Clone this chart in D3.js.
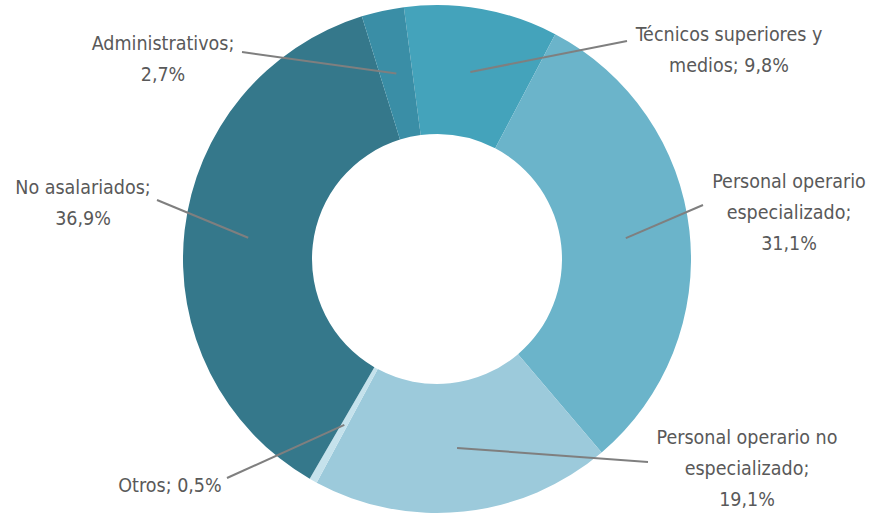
<!DOCTYPE html>
<html><head><meta charset="utf-8">
<script src="https://cdn.jsdelivr.net/npm/d3@7/dist/d3.min.js"></script>
<style>
html,body{margin:0;padding:0;background:#fff;}
text{font-family:"DejaVu Sans Condensed","DejaVu Sans",sans-serif;font-stretch:condensed;}
</style></head>
<body>
<svg id="chart" width="870" height="516"></svg>
<script>
// Data
const categories = ["Técnicos superiores y medios","Personal operario especializado","Personal operario no especializado","Otros","No asalariados","Administrativos"];
const values = [9.8, 31.1, 19.1, 0.5, 36.9, 2.7];
const valueLabels = ["9,8%","31,1%","19,1%","0,5%","36,9%","2,7%"];
const colors = ["#44a3bb","#6bb4ca","#9ccadb","#c5e2ec","#35788b","#3a8ea6"];
// label text lines
const labelLines = [
  ["Técnicos superiores y","medios; 9,8%"],
  ["Personal operario","especializado;","31,1%"],
  ["Personal operario no","especializado;","19,1%"],
  ["Otros; 0,5%"],
  ["No asalariados;","36,9%"],
  ["Administrativos;","2,7%"]
];
// layout: label anchor (center x, first baseline y) and leader line outer end
const labelLayout = [
  {x:729, y:41, lx:627, ly:41},
  {x:789, y:188, lx:703, ly:205},
  {x:747, y:444, lx:648, ly:462},
  {x:170, y:492, lx:227, ly:478},
  {x:83, y:194, lx:157, ly:200},
  {x:163, y:50, lx:242, ly:52}
];

const svg = d3.select("#chart");
const cx = 437, cy = 259, rOuter = 254, rInner = 125;
const startDeg = -7.5;

const pie = d3.pie().sort(null).value(d=>d)
  .startAngle(startDeg*Math.PI/180)
  .endAngle(startDeg*Math.PI/180 + 2*Math.PI);
const arcs = pie(values);
const arc = d3.arc().innerRadius(rInner).outerRadius(rOuter);
const midArc = d3.arc().innerRadius(190).outerRadius(190);

const g = svg.append("g").attr("transform",`translate(${cx},${cy})`);
g.selectAll("path.slice").data(arcs).enter().append("path")
  .attr("class","slice")
  .attr("d",arc)
  .attr("fill",(d,i)=>colors[i]);

// leader lines
svg.selectAll("line.leader").data(arcs).enter().append("line")
  .attr("class","leader")
  .attr("x1",(d,i)=>labelLayout[i].lx)
  .attr("y1",(d,i)=>labelLayout[i].ly)
  .attr("x2",d=>cx+midArc.centroid(d)[0])
  .attr("y2",d=>cy+midArc.centroid(d)[1])
  .attr("stroke","#7f7f7f").attr("stroke-width",2);

// labels
labelLines.forEach((lines,i)=>{
  const L = labelLayout[i];
  const t = svg.append("text")
    .attr("text-anchor","middle")
    .attr("font-size",19.5)
    .attr("fill","#595959");
  lines.forEach((s,j)=>{
    t.append("tspan").attr("x",L.x).attr("y",L.y + j*31).text(s);
  });
});
</script>
</body></html>
